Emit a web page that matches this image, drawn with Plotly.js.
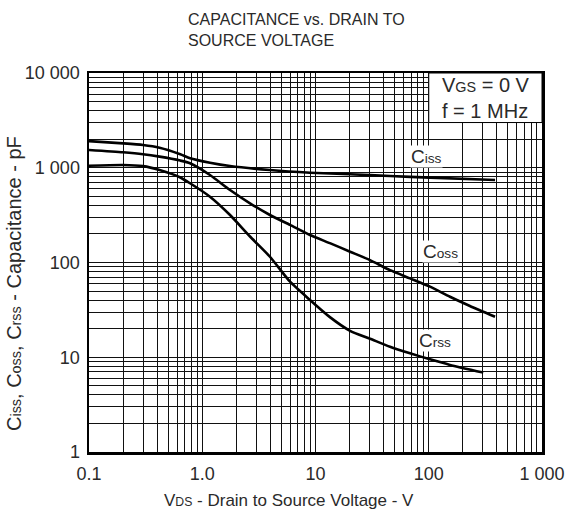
<!DOCTYPE html>
<html>
<head>
<meta charset="utf-8">
<script src="https://cdn.plot.ly/plotly-3.0.1.min.js"></script>
<style>html,body{margin:0;padding:0;background:#fff;}#chart{width:571px;height:529px;}</style>
</head>
<body>
<div id="chart"></div>
<script>
// Data (VDS in volts, capacitance in pF)
const cissV = [0.1, 0.2, 0.3, 0.42, 0.64, 0.78, 1.17, 1.76, 3.96, 8.94, 20.2, 45.5, 102.6, 385];
const cissC = [1910, 1810, 1740, 1630, 1390, 1260, 1130, 1042, 946, 887, 853, 819, 786, 743];

const cossV = [0.1, 0.2, 0.3, 0.42, 0.64, 0.78, 1.17, 1.76, 2.64, 3.96, 5.96, 8.94, 13.4, 20.2, 30.3, 45.5, 68.3, 102.6, 154, 231, 385];
const cossC = [1540, 1456, 1390, 1310, 1190, 1115, 838, 582, 421, 317, 249, 195, 160, 130, 106, 83, 68, 55.6, 43.5, 34.8, 26.8];

const crssV = [0.1, 0.2, 0.3, 0.42, 0.64, 0.78, 1.17, 1.76, 2.64, 3.96, 5.96, 8.94, 13.4, 20.2, 30.3, 45.5, 68.3, 102.6, 154, 303];
const crssC = [1050, 1070, 1040, 946, 790, 686, 495, 317, 188, 115, 62.7, 40.2, 26.5, 19.0, 15.7, 12.9, 11.0, 9.5, 8.3, 6.9];

const xTickVals = [0.1, 1, 10, 100, 1000];
const xTickText = ['0.1', '1.0', '10', '100', '1 000'];
const yTickVals = [1, 10, 100, 1000, 10000];
const yTickText = ['1', '10', '100', '1 000', '10 000'];

const FONT = 'Liberation Sans, Arial, Helvetica, sans-serif';
const TXT = '#2a2a2a';
const sub = s => '<span style="font-size:0.72em">' + s + '</span>';

const lineStyle = {color: '#000', width: 2.6, shape: 'spline', smoothing: 0.6};
const traces = [
  {x: cissV, y: cissC, mode: 'lines', line: lineStyle, hoverinfo: 'skip', name: 'Ciss'},
  {x: cossV, y: cossC, mode: 'lines', line: lineStyle, hoverinfo: 'skip', name: 'Coss'},
  {x: crssV, y: crssC, mode: 'lines', line: lineStyle, hoverinfo: 'skip', name: 'Crss'}
];

const gridCommon = {
  type: 'log',
  showgrid: true, gridcolor: '#111', gridwidth: 1,
  showline: true, linecolor: '#000', linewidth: 2.5, mirror: true,
  ticks: '', zeroline: false,
  tickfont: {family: FONT, size: 18, color: TXT},
  minor: {dtick: 'D1', showgrid: true, gridcolor: '#111', gridwidth: 1, ticks: ''}
};

const layout = {
  width: 571, height: 529,
  margin: {l: 89, r: 29, t: 73, b: 77},
  paper_bgcolor: '#fff', plot_bgcolor: '#fff',
  showlegend: false,
  font: {family: FONT, color: TXT},
  xaxis: Object.assign({}, gridCommon, {
    range: [-1, 3], dtick: 1,
    tickmode: 'array', tickvals: xTickVals, ticktext: xTickText,
    ticklabelstandoff: 4
  }),
  yaxis: Object.assign({}, gridCommon, {
    range: [0, 4], dtick: 1,
    tickmode: 'array', tickvals: yTickVals, ticktext: yTickText,
    ticklabelstandoff: 3
  }),
  shapes: [
    {type: 'rect', xref: 'x', yref: 'y', x0: 100, x1: 1000, y0: 3000, y1: 10000,
     fillcolor: '#fff', line: {color: '#000', width: 1}, layer: 'between'}
  ],
  annotations: [
    // chart title
    {xref: 'paper', yref: 'paper', x: (186 - 89) / 453, y: (452 - 9) / 379, xanchor: 'left', yanchor: 'top',
     align: 'left', showarrow: false,
     text: 'CAPACITANCE vs. DRAIN TO<br>SOURCE VOLTAGE', font: {family: FONT, size: 16, color: TXT}},
    // x-axis title
    {xref: 'paper', yref: 'paper', x: (289 - 89) / 453, y: (452 - 500) / 379, xanchor: 'center', yanchor: 'middle',
     showarrow: false,
     text: 'V' + sub('DS') + ' - Drain to Source Voltage - V', font: {family: FONT, size: 17, color: TXT}},
    // y-axis title
    {xref: 'paper', yref: 'paper', x: (14 - 89) / 453, y: (452 - 284) / 379, xanchor: 'center', yanchor: 'middle',
     textangle: -90, showarrow: false,
     text: 'C' + sub('iss') + ', C' + sub('oss') + ', C' + sub('rss') + ' - Capacitance - pF',
     font: {family: FONT, size: 20, color: TXT}},
    // conditions box text
    {xref: 'paper', yref: 'paper', x: (440 - 89) / 453, y: 1.003, xanchor: 'left', yanchor: 'top',
     align: 'left', showarrow: false,
     text: 'V' + sub('GS') + ' = 0 V<br>f = 1 MHz', font: {family: FONT, size: 20, color: TXT}},
    // curve labels
    {xref: 'x', yref: 'y', x: Math.log10(95), y: Math.log10(1330), showarrow: false,
     text: 'C' + sub('iss'), bgcolor: '#fff', borderpad: 0, font: {family: FONT, size: 19, color: TXT}},
    {xref: 'x', yref: 'y', x: Math.log10(128), y: Math.log10(132), showarrow: false,
     text: 'C' + sub('oss'), bgcolor: '#fff', borderpad: 0, font: {family: FONT, size: 19, color: TXT}},
    {xref: 'x', yref: 'y', x: Math.log10(113), y: Math.log10(15), showarrow: false,
     text: 'C' + sub('rss'), bgcolor: '#fff', borderpad: 0, font: {family: FONT, size: 19, color: TXT}}
  ]
};

Plotly.newPlot('chart', traces, layout, {staticPlot: true, displayModeBar: false});
</script>
</body>
</html>
